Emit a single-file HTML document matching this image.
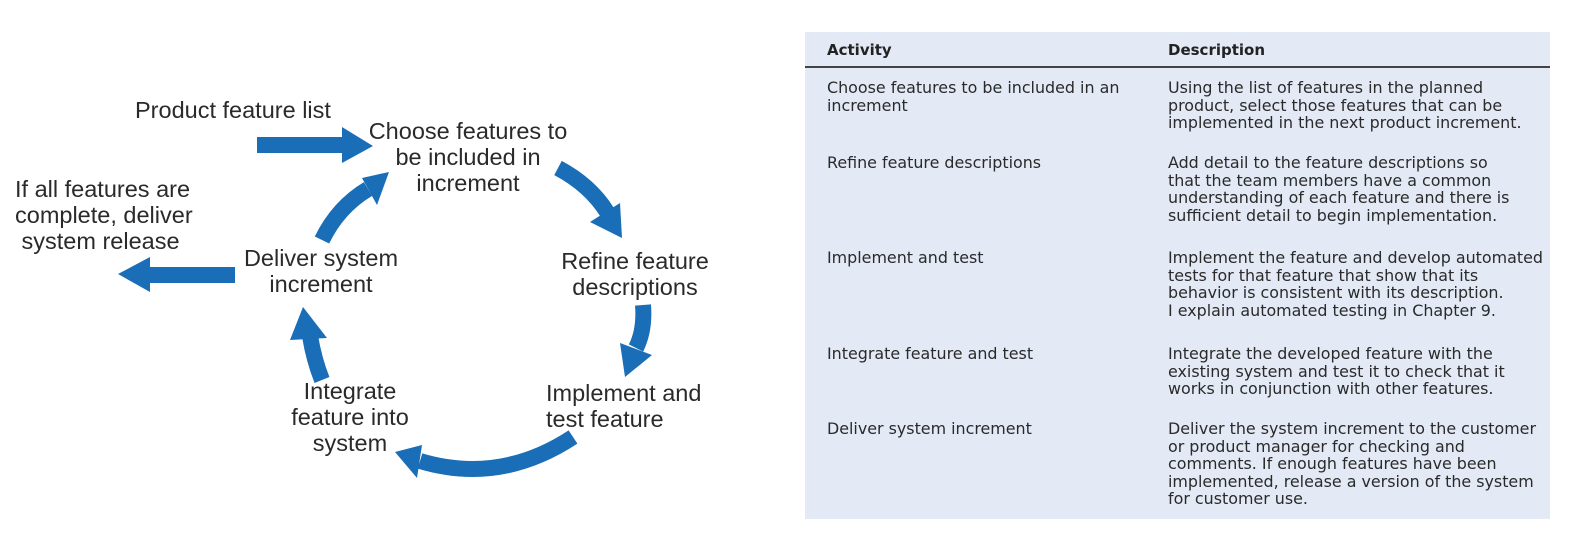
<!DOCTYPE html>
<html><head><meta charset="utf-8"><style>
body{margin:0;width:1575px;height:541px;background:#fff;position:relative;overflow:hidden;font-family:"DejaVu Sans","Liberation Sans",sans-serif;}
svg{position:absolute;left:0;top:0}
.t{position:absolute;font-family:"Liberation Sans",sans-serif;font-size:23.5px;color:#2a2a2a;line-height:26px;white-space:nowrap}
.c{text-align:center}
#tbl{position:absolute;left:805px;top:32px;width:745px;height:487px;background:#e3e9f5}
.hd{position:absolute;top:9px;font-weight:bold;font-size:15px;color:#222}
.rule{position:absolute;left:0;right:0;top:34px;height:2px;background:#444}
.cell{position:absolute;font-size:15.9px;line-height:17.6px;color:#2a2a2a;white-space:nowrap}
</style></head><body>
<svg width="1575" height="541">
<g fill="none" stroke="#1a6db7" stroke-width="16">
<path d="M257,145 L344,145"/>
<path d="M235,275 L146,275"/>
<path d="M322,240 Q338,207 368,189"/>
<path d="M322,380 Q314,360 310,336"/>
<path d="M558,168 Q590,185 607,212"/>
<path d="M643,305 Q645,330 636,348"/>
<path d="M573,437 Q500,485 420,461"/>
</g>
<g fill="#1a6db7">
<polygon points="342,127 373,146 342,163"/>
<polygon points="150,257 118,274 150,292"/>
<polygon points="389,172 362,178 377,205"/>
<polygon points="303,307 290,340 327,338"/>
<polygon points="622,238 590,222 620,203"/>
<polygon points="625,377 620,343 652,355"/>
<polygon points="395,452 422,445 417,478"/>
</g></svg>
<div class="t" style="left:135px;top:97px">Product feature list</div>
<div class="t c" style="left:368px;width:200px;top:118px">Choose features to<br>be included in<br>increment</div>
<div class="t" style="left:15px;top:176px">If all features are<br>complete, deliver<br>&nbsp;system release</div>
<div class="t c" style="left:221px;width:200px;top:245px">Deliver system<br>increment</div>
<div class="t c" style="left:535px;width:200px;top:248px">Refine feature<br>descriptions</div>
<div class="t" style="left:546px;top:380px">Implement and<br>test feature</div>
<div class="t c" style="left:250px;width:200px;top:378px">Integrate<br>feature into<br>system</div>
<div id="tbl">
<div class="hd" style="left:22px">Activity</div>
<div class="hd" style="left:363px">Description</div>
<div class="rule"></div>
<div class="cell" style="left:22px;top:47px">Choose features to be included in an<br>increment</div>
<div class="cell" style="left:363px;top:47px">Using the list of features in the planned<br>product, select those features that can be<br>implemented in the next product increment.</div>
<div class="cell" style="left:22px;top:122px">Refine feature descriptions</div>
<div class="cell" style="left:363px;top:122px">Add detail to the feature descriptions so<br>that the team members have a common<br>understanding of each feature and there is<br>sufficient detail to begin implementation.</div>
<div class="cell" style="left:22px;top:217px">Implement and test</div>
<div class="cell" style="left:363px;top:217px">Implement the feature and develop automated<br>tests for that feature that show that its<br>behavior is consistent with its description.<br>I explain automated testing in Chapter 9.</div>
<div class="cell" style="left:22px;top:313px">Integrate feature and test</div>
<div class="cell" style="left:363px;top:313px">Integrate the developed feature with the<br>existing system and test it to check that it<br>works in conjunction with other features.</div>
<div class="cell" style="left:22px;top:388px">Deliver system increment</div>
<div class="cell" style="left:363px;top:388px">Deliver the system increment to the customer<br>or product manager for checking and<br>comments. If enough features have been<br>implemented, release a version of the system<br>for customer use.</div>
</div>
</body></html>
